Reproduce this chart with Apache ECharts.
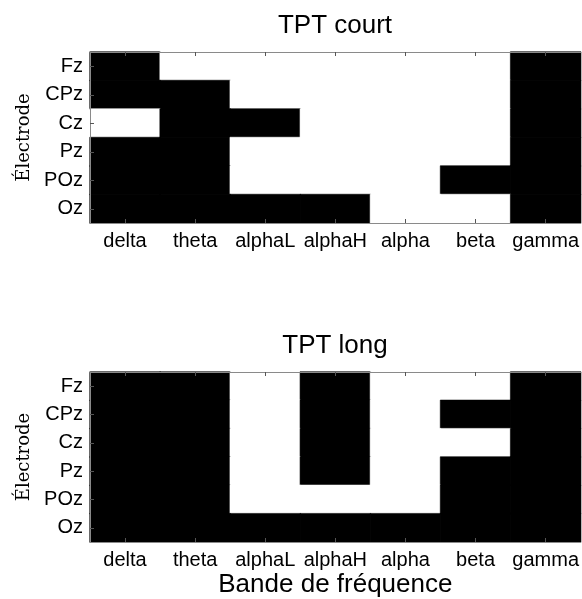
<!DOCTYPE html>
<html>
<head>
<meta charset="utf-8">
<script src="https://cdn.jsdelivr.net/npm/echarts@6/dist/echarts.min.js"></script>
<style>
  html, body { margin: 0; padding: 0; background: #fff; }
  #chart { width: 582px; height: 599px; }
</style>
</head>
<body>
<div id="chart"></div>
<script>
// Frequency bands (columns) and electrodes (rows, top to bottom)
const bands = ['delta', 'theta', 'alphaL', 'alphaH', 'alpha', 'beta', 'gamma'];
const electrodes = ['Fz', 'CPz', 'Cz', 'Pz', 'POz', 'Oz'];

// 1 = significant (black), 0 = not significant (white); one row per electrode
const tptCourt = [
  [1, 0, 0, 0, 0, 0, 1],
  [1, 1, 0, 0, 0, 0, 1],
  [0, 1, 1, 0, 0, 0, 1],
  [1, 1, 0, 0, 0, 0, 1],
  [1, 1, 0, 0, 0, 1, 1],
  [1, 1, 1, 1, 0, 0, 1]
];
const tptLong = [
  [1, 1, 0, 1, 0, 0, 1],
  [1, 1, 0, 1, 0, 1, 1],
  [1, 1, 0, 1, 0, 0, 1],
  [1, 1, 0, 1, 0, 1, 1],
  [1, 1, 0, 0, 0, 1, 1],
  [1, 1, 1, 1, 1, 1, 1]
];

const panelTitles = ['TPT court', 'TPT long'];
const xName = 'Bande de fréquence';
const yName = 'Électrode';

// Each cell is filled and outlined in its own colour so neighbouring cells join without seams
function toCells(matrix) {
  const cells = [];
  matrix.forEach((row, r) => row.forEach((v, c) => {
    const col = v ? '#000000' : '#ffffff';
    cells.push({ value: [c, r, v], itemStyle: { color: col, borderColor: col, borderWidth: 0.6 } });
  }));
  return cells;
}

const FONT = 'Liberation Sans, Arial, sans-serif';
const axisGray = '#8a8a8a';
const gridTops = [52, 372];
const gridH = 171;

const grids = gridTops.map(t => ({ left: 90, right: 1, top: t, height: gridH }));

const xAxes = [];
const yAxes = [];
gridTops.forEach((t, i) => {
  // bottom axis with band labels
  xAxes.push({
    type: 'category', gridIndex: i, data: bands, position: 'bottom', z: 10,
    axisLine: { show: true, lineStyle: { color: axisGray, width: 1 } },
    axisTick: { show: true, inside: true, alignWithLabel: true, interval: 0, length: 4, lineStyle: { color: '#555' } },
    axisLabel: { color: '#000', fontFamily: FONT, fontSize: 20, margin: 8, interval: 0 },
    splitLine: { show: false },
    name: i === 1 ? xName : '', nameLocation: 'middle', nameGap: 30,
    nameTextStyle: { color: '#000', fontFamily: FONT, fontSize: 26 }
  });
  // mirrored top axis closing the box
  xAxes.push({
    type: 'category', gridIndex: i, data: bands, position: 'top', z: 10,
    axisLine: { show: true, lineStyle: { color: axisGray, width: 1 } },
    axisTick: { show: true, inside: true, alignWithLabel: true, interval: 0, length: 4, lineStyle: { color: '#555' } },
    axisLabel: { show: false }, splitLine: { show: false }
  });
  yAxes.push({
    type: 'category', gridIndex: i, data: electrodes, inverse: true, z: 10,
    axisLine: { show: true, lineStyle: { color: axisGray, width: 1 } },
    axisTick: { show: true, inside: true, alignWithLabel: true, interval: 0, length: 4, lineStyle: { color: '#555' } },
    axisLabel: { color: '#000', fontFamily: FONT, fontSize: 20, margin: 7, interval: 0 },
    splitLine: { show: false },
    name: yName, nameLocation: 'middle', nameGap: 50, nameRotate: 90,
    nameTextStyle: { color: '#000', fontFamily: 'DejaVu Serif, serif', fontSize: 18 }
  });
});

const chart = echarts.init(document.getElementById('chart'), null, { renderer: 'canvas' });
chart.setOption({
  backgroundColor: '#fff',
  animation: false,
  title: panelTitles.map((txt, i) => ({
    text: txt, left: 335, top: gridTops[i] - 39, textAlign: 'center', padding: 0,
    textStyle: { color: '#000', fontFamily: FONT, fontSize: 26, fontWeight: 'normal' }
  })),
  grid: grids,
  xAxis: xAxes,
  yAxis: yAxes,
  series: [tptCourt, tptLong].map((m, i) => ({
    type: 'heatmap', xAxisIndex: i * 2, yAxisIndex: i, data: toCells(m),
    emphasis: { disabled: true }
  }))
});
</script>
</body>
</html>
